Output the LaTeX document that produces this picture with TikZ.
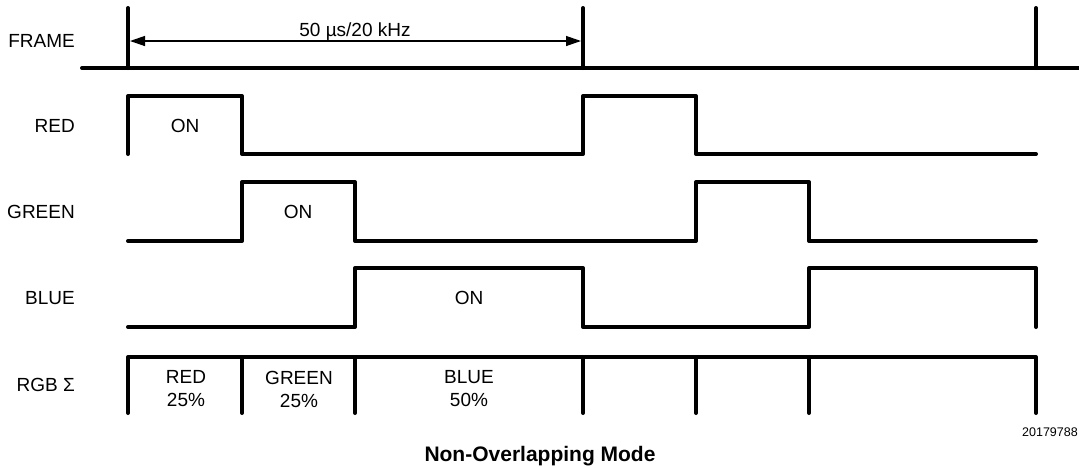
\documentclass[tikz,border=0pt]{standalone}
\usepackage{fontspec}
\setmainfont{Liberation Sans}
\usetikzlibrary{arrows.meta}
\begin{document}
\begin{tikzpicture}[x=1pt,y=-1pt,
  sig/.style={line width=4pt, line cap=round, line join=round},
  lbl/.style={font=\fontsize{19}{22}\selectfont, inner sep=0pt},
  rowlbl/.style={lbl, anchor=east},
  dimline/.style={line width=1.3pt, {Triangle[length=15pt,width=10pt]}-{Triangle[length=15pt,width=10pt]}},
  twoline/.style={lbl, align=center, font=\fontsize{19}{23}\selectfont},
]
\useasboundingbox (0,0) rectangle (1079,467);

% row labels
\node[rowlbl] (lframe) at (75,41) {FRAME};
\node[rowlbl] (lred)   at (75,126) {RED};
\node[rowlbl] (lgreen) at (75,212) {GREEN};
\node[rowlbl] (lblue)  at (75,298) {BLUE};
\node[rowlbl] (lrgb)   at (75,385) {RGB Σ};

% FRAME
\draw[sig] (82,68) -- (1090,68);
\draw[sig] (128,8) -- (128,68);
\draw[sig] (583,8) -- (583,68);
\draw[sig] (1036,8) -- (1036,68);
\coordinate (fa) at (130,41);
\coordinate (fb) at (581,41);
\draw[dimline] (fa) -- (fb);
\node[lbl, anchor=base] (period) at (355,36) {50 µs/20 kHz};

% RED
\draw[sig] (128,154) -- (128,96) -- (242,96) -- (242,154) -- (583,154) -- (583,96) -- (696,96) -- (696,154) -- (1036,154);
\node[lbl] (onred) at (185,126) {ON};

% GREEN
\draw[sig] (128,241) -- (242,241) -- (242,182) -- (355,182) -- (355,241) -- (696,241) -- (696,182) -- (809,182) -- (809,241) -- (1036,241);
\node[lbl] (ongreen) at (298,212) {ON};

% BLUE
\draw[sig] (128,327) -- (355,327) -- (355,268) -- (583,268) -- (583,327) -- (809,327) -- (809,268) -- (1036,268) -- (1036,327);
\node[lbl] (onblue) at (469,298) {ON};

% RGB sum
\draw[sig] (128,413) -- (128,357) -- (1036,357) -- (1036,413);
\foreach \x in {242,355,583,696,809} {
  \draw[sig] (\x,357) -- (\x,413);
}
\node[twoline] (sred) at (186,389) {RED\\25\%};
\node[twoline] (sgreen) at (299,389) {GREEN\\25\%};
\node[twoline] (sblue) at (469,389) {BLUE\\50\%};

% code and caption
\node[font=\fontsize{12.5}{14}\selectfont, anchor=east, inner sep=0pt] (code) at (1078,432) {20179788};
\node[font=\bfseries\fontsize{21}{24}\selectfont, anchor=base, inner sep=0pt] (caption) at (540,461) {Non-Overlapping Mode};
\end{tikzpicture}
\end{document}
